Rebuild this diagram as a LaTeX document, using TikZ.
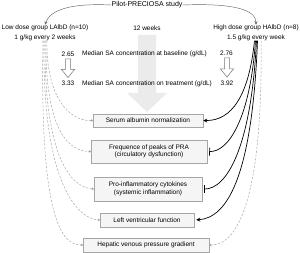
\documentclass[tikz,border=0pt]{standalone}
\usepackage{fontspec}
\setmainfont{Liberation Sans}
\usetikzlibrary{arrows.meta}
\begin{document}
\begin{tikzpicture}[x=1pt,y=-1pt, font=\fontsize{6.5}{7.6}\selectfont,
  lbl/.style={inner sep=0pt},
  box/.style={draw=black!35, fill=black!4, align=center, inner sep=1pt, line width=0.5pt},
  dline/.style={draw=black!35, line width=0.5pt, dash pattern=on 2.2pt off 1.6pt, -{Circle[length=2.2pt, fill=black!35]}},
  bline/.style={draw=black, line width=0.7pt},
  tarrow/.style={draw=black!60, line width=0.45pt, -{Stealth[length=3.5pt, width=3pt]}},
  hollow/.style={draw=black!55, fill=white, line width=0.5pt}]
\useasboundingbox (0,0) rectangle (300,253);
% big grey arrow (behind texts)
\fill[black!8] (138,35) -- (156,35) -- (156,93) -- (167,93) -- (147,112) -- (127,93) -- (138,93) -- cycle;
% header
\node[lbl, font=\fontsize{7}{8}\selectfont] (title) at (147,5) {Pilot-PRECIOSA study};
\node[lbl] (ld) at (45,28) {Low dose group LAlbD (n=10)};
\node[lbl] (ldd) at (45,37.5) {1 g/kg every 2 weeks};
\node[lbl] (hd) at (256,28) {High dose group HAlbD (n=8)};
\node[lbl] (hdd) at (256,37.5) {1.5 g/kg every week};
\node[lbl] (wk) at (147,28.5) {12 weeks};
% concentrations
\node[lbl] (bl) at (68,54) {2.65};
\node[lbl, anchor=west] (mb) at (82,54) {Median SA concentration at baseline (g/dL)};
\node[lbl] (bh) at (226.5,53) {2.76};
\node[lbl] (tl) at (68,83.5) {3.33};
\node[lbl, anchor=west] (mt) at (82,83.5) {Median SA concentration on treatment (g/dL)};
\node[lbl] (th) at (227,83.5) {3.92};
% hollow arrows
\draw[hollow] (65.5,59) -- (70.5,59) -- (70.5,69.5) -- (74.5,69.5) -- (68,77.5) -- (61.5,69.5) -- (65.5,69.5) -- cycle;
\draw[hollow] (224.5,58) -- (229.5,58) -- (229.5,69) -- (233.5,69) -- (227,77) -- (220.5,69) -- (224.5,69) -- cycle;
% boxes
\node[box, minimum width=110pt, minimum height=13pt] (b1) at (148,120.5) {Serum albumin normalization};
\node[box, minimum width=116pt, minimum height=23pt] (b2) at (149,151.5) {Frequence of peaks of PRA\\(circulatory dysfunction)};
\node[box, minimum width=108pt, minimum height=24pt] (b3) at (148,189) {Pro-inflammatory cytokines\\(systemic inflammation)};
\node[box, minimum width=94pt, minimum height=14pt] (b4) at (147,220) {Left ventricular function};
\node[box, minimum width=126pt, minimum height=14pt] (b5) at (146,245) {Hepatic venous pressure gradient};
% title arrows
\draw[tarrow] (title.west) .. controls (70,3) and (50,10) .. (ld.north);
\draw[tarrow] (title.east) .. controls (235,3) and (256,10) .. (hd.north);
% low dose dashed connectors
\draw[dline] ([xshift=2pt]ldd.south) .. controls (46,95) and (68,121) .. (b1.west);
\draw[dline] ([xshift=1pt]ldd.south) .. controls (45,125) and (66,151) .. (b2.west);
\draw[dline] (ldd.south) .. controls (44,155) and (70,187) .. (b3.west);
\draw[dline] ([xshift=-1pt]ldd.south) .. controls (42,180) and (76,218) .. (b4.west);
\draw[dline] ([xshift=-2pt]ldd.south) .. controls (40,205) and (58,245) .. (b5.west);
% high dose connectors
\draw[bline, -{Stealth[length=4pt, width=4pt]}] ([xshift=-1.5pt]hdd.south) .. controls (249,95) and (232,121) .. (b1.east);
\draw[bline, -{Bar[width=8pt]}, shorten >=2pt] ([xshift=-0.5pt]hdd.south) .. controls (250,120) and (228,152) .. (b2.east);
\draw[bline, -{Bar[width=8pt]}, shorten >=2pt] ([xshift=0.5pt]hdd.south) .. controls (251,150) and (226,189) .. (b3.east);
\draw[bline, -{Stealth[length=4pt, width=4pt]}, shorten >=2pt] ([xshift=1.5pt]hdd.south) .. controls (252,180) and (226,218) .. (b4.east);
\draw[dline] ([xshift=5pt]hdd.south) .. controls (263,190) and (240,245) .. (b5.east);
\end{tikzpicture}
\end{document}
